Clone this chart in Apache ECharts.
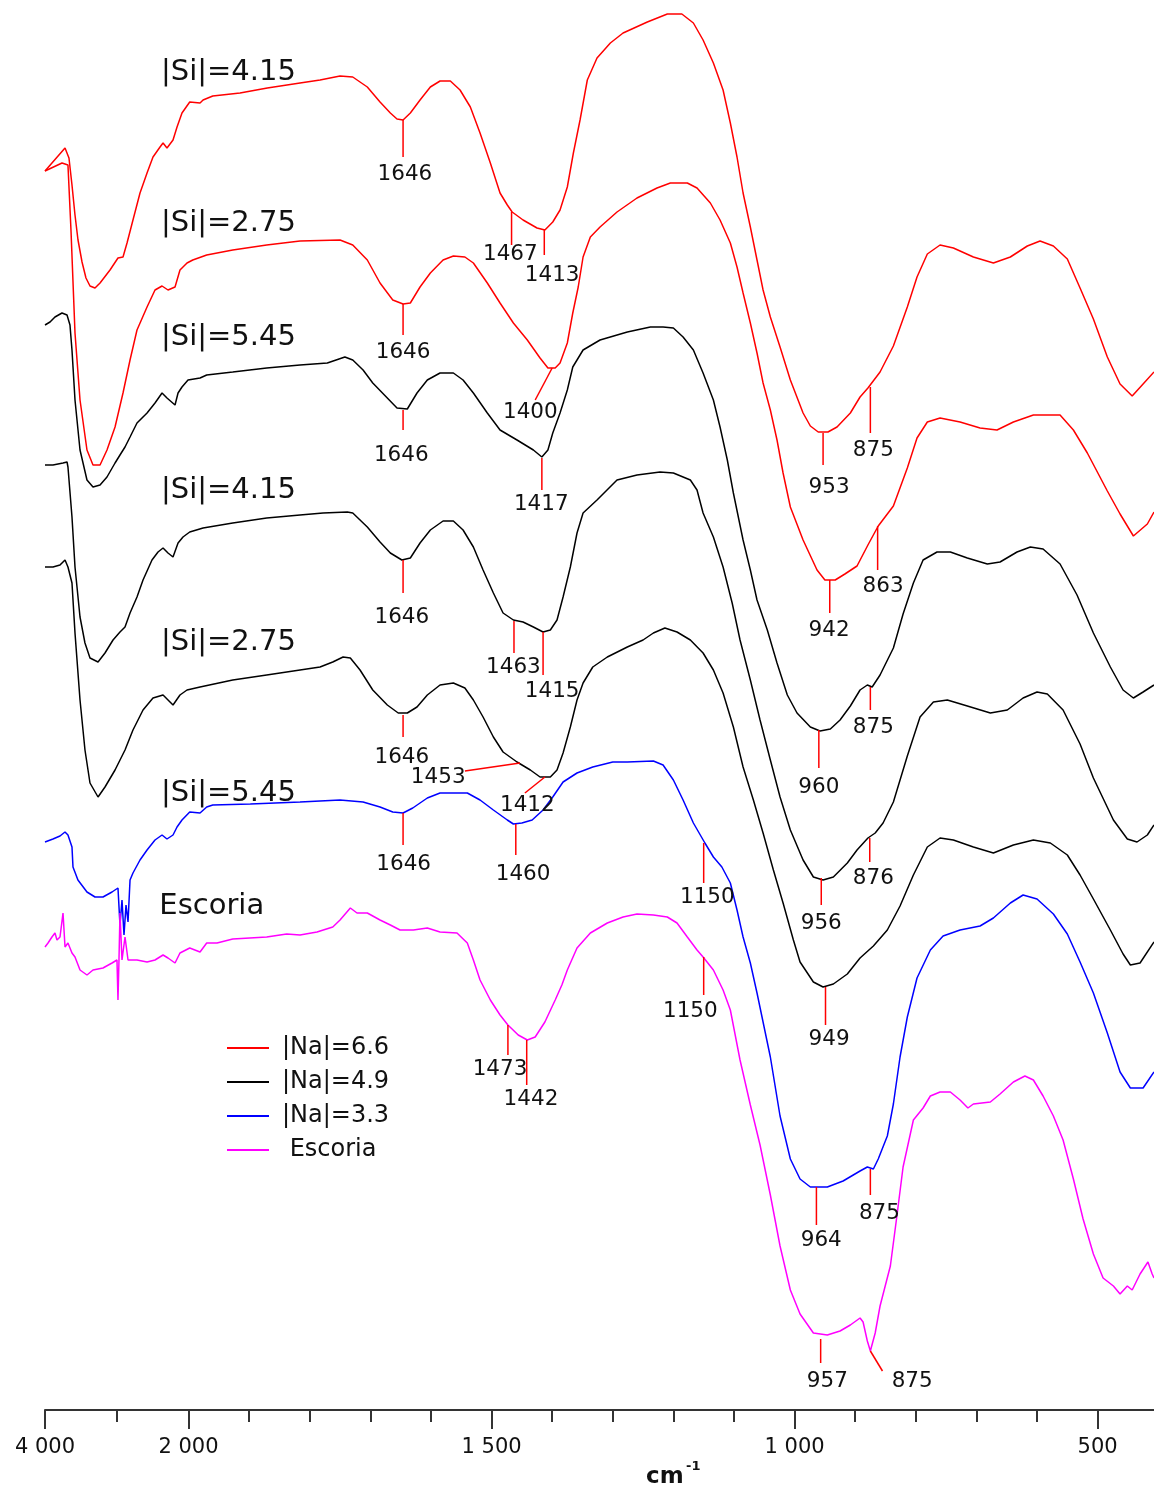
<!DOCTYPE html>
<html><head><meta charset="utf-8">
<script src="https://cdn.jsdelivr.net/npm/echarts@6/dist/echarts.min.js"></script>
<style>html,body{margin:0;padding:0;background:#fff}#chart{width:1154px;height:1490px}</style>
</head><body><div id="chart"></div>
<script>
// ---------- DATA (wavenumber cm-1, offset transmittance a.u.) ----------
const NA66_SI415 = [[4000,1239],[3721,1262],[3666,1252],[3624,1225],[3582,1195],[3540,1170],[3484,1148],[3429,1132],[3373,1124],[3303,1122],[3233,1127],[3094,1140],[2983,1152],[2913,1153],[2857,1167],[2774,1190],[2676,1217],[2578,1237],[2495,1253],[2397,1263],[2355,1267],[2300,1262],[2216,1270],[2160,1283],[2091,1297],[1998,1308],[1981,1307],[1976,1310],[1960,1314],[1915,1317],[1870,1322],[1816,1327],[1783,1330],[1750,1334],[1729,1333],[1705,1323],[1684,1308],[1667,1297],[1656,1291],[1646,1290],[1634,1297],[1618,1310],[1601,1323],[1585,1329],[1568,1329],[1552,1320],[1535,1303],[1519,1277],[1502,1247],[1486,1217],[1474,1205],[1466,1198],[1448,1190],[1425,1182],[1412,1180],[1399,1188],[1387,1200],[1375,1223],[1365,1257],[1354,1290],[1342,1330],[1326,1352],[1304,1367],[1283,1377],[1243,1388],[1210,1396],[1186,1396],[1167,1387],[1151,1370],[1134,1347],[1118,1320],[1106,1287],[1095,1253],[1085,1217],[1073,1183],[1062,1150],[1052,1120],[1040,1093],[1024,1063],[1007,1030],[986,997],[974,984],[961,978],[945,978],[930,983],[908,997],[892,1013],[879,1022],[859,1038],[837,1064],[814,1103],[798,1133],[781,1156],[760,1165],[738,1162],[705,1153],[672,1147],[644,1153],[616,1164],[595,1169],[573,1164],[550,1151],[529,1122],[507,1091],[484,1053],[463,1026],[443,1014],[425,1026],[407,1038]];

const NA66_SI275 = [[4000,1239],[3763,1247],[3680,1245],[3638,1180],[3582,1077],[3512,1010],[3415,960],[3331,945],[3233,945],[3136,960],[3024,983],[2913,1017],[2815,1050],[2718,1080],[2578,1103],[2467,1120],[2369,1124],[2286,1120],[2188,1123],[2119,1140],[2021,1147],[1993,1150],[1970,1155],[1927,1160],[1871,1165],[1816,1169],[1750,1170],[1729,1165],[1705,1150],[1684,1127],[1663,1110],[1646,1106],[1634,1107],[1618,1123],[1601,1137],[1580,1150],[1563,1154],[1544,1153],[1530,1147],[1507,1127],[1486,1107],[1464,1087],[1441,1070],[1420,1052],[1407,1042],[1395,1042],[1387,1047],[1375,1067],[1366,1097],[1357,1123],[1349,1153],[1337,1173],[1321,1183],[1293,1198],[1260,1212],[1227,1222],[1205,1227],[1177,1227],[1161,1222],[1139,1207],[1123,1190],[1106,1167],[1095,1143],[1085,1117],[1073,1087],[1062,1057],[1052,1027],[1040,1000],[1029,970],[1019,937],[1007,903],[986,870],[963,840],[950,830],[933,830],[917,836],[897,844],[879,865],[862,884],[837,904],[814,942],[798,972],[781,988],[760,992],[727,988],[694,982],[666,980],[639,988],[606,995],[562,995],[540,980],[517,957],[484,919],[463,896],[441,874],[418,886],[407,898]];

const NA49_SI545 = [[4000,1085],[3930,1088],[3861,1093],[3763,1097],[3693,1095],[3652,1085],[3624,1060],[3582,1010],[3512,960],[3415,930],[3331,923],[3233,925],[3136,933],[3024,947],[2955,955],[2885,963],[2815,973],[2718,987],[2578,997],[2467,1007],[2369,1017],[2300,1012],[2188,1005],[2146,1017],[2091,1023],[2007,1030],[1981,1032],[1970,1035],[1927,1038],[1871,1042],[1816,1045],[1771,1047],[1742,1053],[1729,1050],[1712,1040],[1696,1027],[1672,1012],[1656,1002],[1639,1001],[1623,1017],[1606,1030],[1585,1037],[1563,1037],[1547,1030],[1530,1017],[1507,997],[1486,980],[1458,970],[1431,960],[1417,953],[1407,960],[1399,977],[1387,997],[1375,1020],[1366,1043],[1349,1060],[1321,1070],[1276,1078],[1238,1083],[1217,1083],[1200,1082],[1184,1073],[1167,1060],[1151,1037],[1134,1010],[1123,983],[1111,950],[1101,917],[1085,870],[1073,840],[1062,810],[1045,780],[1029,747],[1012,715],[996,697],[974,683],[958,679],[941,681],[925,690],[908,704],[892,720],[880,725],[872,723],[859,735],[837,762],[821,796],[804,827],[788,850],[765,858],[743,858],[715,852],[682,846],[661,848],[633,858],[611,863],[590,861],[562,846],[534,815],[507,777],[479,743],[458,720],[441,712],[425,718],[407,725]];

const NA49_SI415 = [[4000,945],[3889,945],[3749,947],[3693,948],[3680,943],[3624,893],[3582,843],[3512,793],[3443,767],[3373,752],[3261,748],[3164,757],[3052,770],[2955,778],[2885,783],[2815,797],[2718,813],[2634,830],[2509,850],[2425,858],[2355,862],[2286,857],[2216,853],[2146,867],[2077,873],[1998,878],[1976,882],[1927,887],[1871,892],[1816,895],[1778,897],[1738,898],[1729,897],[1705,883],[1684,868],[1667,857],[1648,850],[1634,852],[1618,867],[1601,880],[1580,889],[1563,889],[1547,880],[1530,863],[1514,840],[1497,817],[1481,797],[1464,790],[1448,788],[1431,783],[1415,778],[1403,780],[1392,790],[1382,813],[1370,843],[1359,877],[1349,897],[1326,910],[1293,930],[1260,935],[1222,938],[1200,937],[1172,930],[1161,920],[1151,897],[1134,873],[1118,843],[1103,807],[1090,770],[1073,730],[1057,690],[1040,650],[1024,613],[1007,580],[986,550],[969,533],[953,530],[936,533],[913,547],[897,560],[879,572],[867,577],[854,587],[837,608],[814,654],[793,693],[771,708],[748,710],[715,704],[677,697],[649,700],[623,712],[600,718],[583,716],[557,700],[529,666],[507,632],[474,590],[451,571],[435,568],[418,575],[407,585]];

const NA49_SI275 = [[4000,843],[3889,843],[3791,845],[3721,850],[3680,843],[3624,827],[3582,777],[3512,710],[3443,660],[3373,627],[3261,613],[3164,623],[3024,640],[2885,660],[2774,680],[2634,700],[2495,712],[2355,715],[2216,705],[2119,715],[2021,720],[1981,723],[1927,730],[1871,735],[1816,740],[1783,743],[1762,748],[1745,753],[1733,752],[1717,740],[1696,720],[1672,705],[1654,697],[1639,697],[1623,703],[1606,715],[1585,725],[1563,727],[1544,722],[1530,710],[1514,693],[1497,673],[1481,658],[1458,648],[1436,640],[1420,633],[1403,633],[1392,640],[1382,657],[1370,683],[1359,710],[1349,727],[1333,743],[1309,753],[1276,763],[1250,770],[1233,777],[1214,782],[1194,778],[1172,770],[1151,757],[1134,740],[1118,717],[1101,683],[1085,643],[1068,610],[1052,577],[1035,540],[1019,507],[1002,470],[991,448],[969,428],[953,423],[936,426],[913,436],[892,452],[870,464],[847,480],[826,504],[804,535],[781,563],[760,572],[738,570],[705,563],[672,557],[639,565],[606,570],[578,567],[550,555],[529,535],[507,511],[479,480],[458,456],[446,445],[430,447],[407,468]];

const NA33_SI545 = [[4000,568],[3889,571],[3791,574],[3721,578],[3680,575],[3624,563],[3610,543],[3541,530],[3415,518],[3303,513],[3192,513],[3066,518],[2983,522],[2955,485],[2927,510],[2899,475],[2871,505],[2843,488],[2815,530],[2774,537],[2676,550],[2578,560],[2467,570],[2369,575],[2300,571],[2216,575],[2160,583],[2091,590],[1998,598],[1981,597],[1970,603],[1960,605],[1898,606],[1816,608],[1750,610],[1712,608],[1684,603],[1663,598],[1646,597],[1630,602],[1606,612],[1585,617],[1563,617],[1540,617],[1519,610],[1497,600],[1474,590],[1464,586],[1450,587],[1433,590],[1415,600],[1399,613],[1382,628],[1359,637],[1333,643],[1300,648],[1276,648],[1233,649],[1217,645],[1200,630],[1184,610],[1167,587],[1148,567],[1134,553],[1120,543],[1106,527],[1095,500],[1085,473],[1073,447],[1062,417],[1040,353],[1024,294],[1007,251],[991,231],[974,223],[946,223],[920,229],[892,239],[880,243],[870,241],[862,251],[847,274],[837,306],[826,353],[814,393],[798,432],[776,460],[755,474],[727,480],[694,484],[672,492],[644,507],[623,515],[600,511],[573,496],[550,476],[529,448],[507,417],[484,377],[463,338],[446,322],[425,322],[407,338]];

const ESCORIA = [[4000,463],[3958,467],[3903,473],[3861,477],[3833,470],[3791,473],[3749,497],[3721,463],[3680,467],[3624,457],[3582,453],[3512,440],[3415,435],[3331,440],[3192,442],[3066,447],[2997,450],[2983,410],[2969,450],[2955,497],[2927,450],[2885,473],[2843,450],[2718,450],[2578,448],[2467,450],[2355,455],[2286,452],[2188,447],[2119,457],[1998,462],[1981,458],[1970,467],[1953,467],[1927,471],[1871,473],[1838,476],[1816,475],[1788,478],[1762,483],[1750,490],[1733,502],[1722,497],[1705,497],[1684,490],[1667,485],[1651,480],[1629,480],[1606,482],[1585,478],[1557,477],[1540,467],[1530,450],[1519,430],[1502,410],[1486,395],[1473,385],[1456,375],[1441,370],[1428,373],[1412,388],[1395,410],[1384,425],[1375,440],[1359,462],[1337,477],[1309,487],[1283,493],[1260,496],[1233,495],[1210,493],[1194,487],[1177,473],[1161,460],[1151,453],[1134,440],[1118,420],[1106,400],[1090,350],[1073,305],[1057,265],[1040,215],[1024,164],[1007,120],[991,96],[969,77],[946,75],[925,79],[908,85],[892,92],[887,88],[880,69],[875,59],[867,77],[859,104],[842,144],[831,195],[821,243],[804,290],[788,302],[776,314],[760,318],[743,318],[727,310],[714,302],[705,306],[677,308],[661,316],[639,328],[620,334],[606,330],[590,314],[573,294],[557,270],[540,231],[524,191],[507,156],[491,132],[474,124],[463,116],[451,124],[443,120],[430,136],[417,148],[410,136],[407,132]];

// peak marks: [w on curve, value on curve, w at end, value at end, w of label, value of label, text]
const PEAK_MARKS = [
  [1646,1290,1646,1253,1643,1236,'1646'],
  [1467,1198,1467,1165,1469,1156,'1467'],
  [1413,1180,1413,1155,1400,1135,'1413'],
  [953,977,953,945,943,923,'953'],
  [875,1023,875,977,870,960,'875'],
  [1646,1106,1646,1075,1646,1058,'1646'],
  [1400,1042,1428,1010,1436,998,'1400'],
  [942,830,942,797,943,780,'942'],
  [863,884,863,840,854,824,'863'],
  [1646,1000,1646,980,1649,955,'1646'],
  [1417,952,1417,920,1418,906,'1417'],
  [960,680,960,642,960,623,'960'],
  [875,723,875,700,870,683,'875'],
  [1646,850,1646,817,1648,793,'1646'],
  [1463,789,1463,757,1464,743,'1463'],
  [1415,778,1415,735,1400,719,'1415'],
  [956,532,956,505,956,487,'956'],
  [876,572,876,548,870,532,'876'],
  [1646,695,1646,673,1648,653,'1646'],
  [1453,647,1544,639,1588,633,'1453'],
  [1412,633,1445,617,1441,605,'1412'],
  [949,423,949,385,943,371,'949'],
  [1646,597,1646,565,1645,546,'1646'],
  [1460,586,1460,555,1448,536,'1460'],
  [1150,567,1150,527,1144,513,'1150'],
  [964,223,964,185,956,170,'964'],
  [875,241,875,215,860,197,'875'],
  [1473,385,1473,355,1486,341,'1473'],
  [1442,370,1442,325,1435,311,'1442'],
  [1150,453,1150,415,1172,399,'1150'],
  [957,71,957,47,946,29,'957'],
  [875,59,855,39,806,29,'875']
];

// sample labels: [w of left edge, value, text]
const SAMPLE_LABELS = [
  [2383,1338,'|Si|=4.15'],[2383,1187,'|Si|=2.75'],[2383,1073,'|Si|=5.45'],
  [2383,920,'|Si|=4.15'],[2383,768,'|Si|=2.75'],[2383,617,'|Si|=5.45'],
  [2407,504,'Escoria']
];

const MAJOR_TICKS = [4000, 2000, 1500, 1000, 500];
const MAJOR_LABELS = ['4 000', '2 000', '1 500', '1 000', '500'];
const MINOR_TICKS = [3000, 1900, 1800, 1700, 1600, 1400, 1300, 1200, 1100, 900, 800, 700, 600];
const W_MAX = 4000, W_MIN = 407;

// ---------- broken wavenumber scale ----------
function toT(w) { return w >= 2000 ? (4000 - w) * 143.5 / 2000 : 143.5 + (2000 - w) * 0.606; }

const FONT = '"DejaVu Sans", sans-serif';
const majorT = MAJOR_TICKS.map(toT);
const minorT = MINOR_TICKS.map(toT);

function lineSeries(name, color, data, z) {
  return {
    type: 'line', name, data: data.map(p => [toT(p[0]), p[1]]),
    symbol: 'none', smooth: false, silent: true, z: z || 2,
    lineStyle: { color, width: 1.5 }, itemStyle: { color }
  };
}

const chart = echarts.init(document.getElementById('chart'), null, { renderer: 'canvas' });
chart.setOption({
  animation: false,
  backgroundColor: '#fff',
  grid: { left: 45, right: 0, top: 0, bottom: 80 },
  xAxis: [{
    type: 'value', min: toT(W_MAX), max: toT(W_MIN), position: 'bottom',
    axisLine: { onZero: false, lineStyle: { color: '#333', width: 2 } },
    axisTick: { show: true, customValues: majorT, length: 19, lineStyle: { color: '#333', width: 2 } },
    axisLabel: {
      customValues: majorT, margin: 27, fontSize: 21, color: '#111', fontFamily: FONT,
      formatter: v => { const i = majorT.findIndex(t => Math.abs(t - v) < 0.5); return i >= 0 ? MAJOR_LABELS[i] : ''; }
    },
    splitLine: { show: false }
  }, {
    type: 'value', min: toT(W_MAX), max: toT(W_MIN), position: 'bottom',
    axisLine: { show: false, onZero: false },
    axisTick: { show: true, customValues: minorT, length: 12, lineStyle: { color: '#333', width: 2 } },
    axisLabel: { show: false },
    splitLine: { show: false }
  }],
  yAxis: { type: 'value', min: 0, max: 1410, show: false },
  legend: {
    left: 222, top: 1031, orient: 'vertical', icon: 'rect', itemWidth: 42, itemHeight: 2, itemGap: 10,
    selectedMode: false,
    data: ['|Na|=6.6', '|Na|=4.9', '|Na|=3.3', 'Escoria'],
    formatter: n => n === 'Escoria' ? ' Escoria' : n,
    textStyle: { fontSize: 24, lineHeight: 24, color: '#111', fontFamily: FONT, padding: [0, 0, 0, 8] }
  },
  graphic: [
    { type: 'text', left: 646, top: 1466, style: { text: 'cm', font: 'bold 23px "DejaVu Sans", sans-serif', fill: '#111' } },
    { type: 'text', left: 686, top: 1460, style: { text: '-1', font: 'bold 13px "DejaVu Sans", sans-serif', fill: '#111' } }
  ],
  series: [
    lineSeries('|Na|=6.6', '#ff0000', NA66_SI415),
    lineSeries('|Na|=6.6', '#ff0000', NA66_SI275),
    lineSeries('|Na|=4.9', '#000000', NA49_SI545),
    lineSeries('|Na|=4.9', '#000000', NA49_SI415),
    lineSeries('|Na|=4.9', '#000000', NA49_SI275),
    lineSeries('|Na|=3.3', '#0000ff', NA33_SI545),
    lineSeries('Escoria', '#ff00ff', ESCORIA),
    {
      type: 'custom', name: 'peaks', silent: true, clip: false, z: 5,
      data: PEAK_MARKS.map(m => [toT(m[0]), m[1]]),
      renderItem: (params, api) => {
        const m = PEAK_MARKS[params.dataIndex];
        const p1 = api.coord([toT(m[0]), m[1]]);
        const p2 = api.coord([toT(m[2]), m[3]]);
        const pl = api.coord([toT(m[4]), m[5]]);
        return {
          type: 'group', children: [
            { type: 'line', shape: { x1: p1[0], y1: p1[1], x2: p2[0], y2: p2[1] }, style: { stroke: '#ff0000', lineWidth: 1.5 } },
            { type: 'text', x: pl[0], y: pl[1], style: { text: m[6], fill: '#111', font: '21.5px ' + FONT, align: 'center', verticalAlign: 'middle' } }
          ]
        };
      }
    },
    {
      type: 'custom', name: 'samples', silent: true, clip: false, z: 6,
      data: SAMPLE_LABELS.map(s => [toT(s[0]), s[1]]),
      renderItem: (params, api) => {
        const s = SAMPLE_LABELS[params.dataIndex];
        const p = api.coord([toT(s[0]), s[1]]);
        return { type: 'text', x: p[0], y: p[1], style: { text: s[2], fill: '#111', font: '29px ' + FONT, align: 'left', verticalAlign: 'middle' } };
      }
    }
  ]
});
</script></body></html>
